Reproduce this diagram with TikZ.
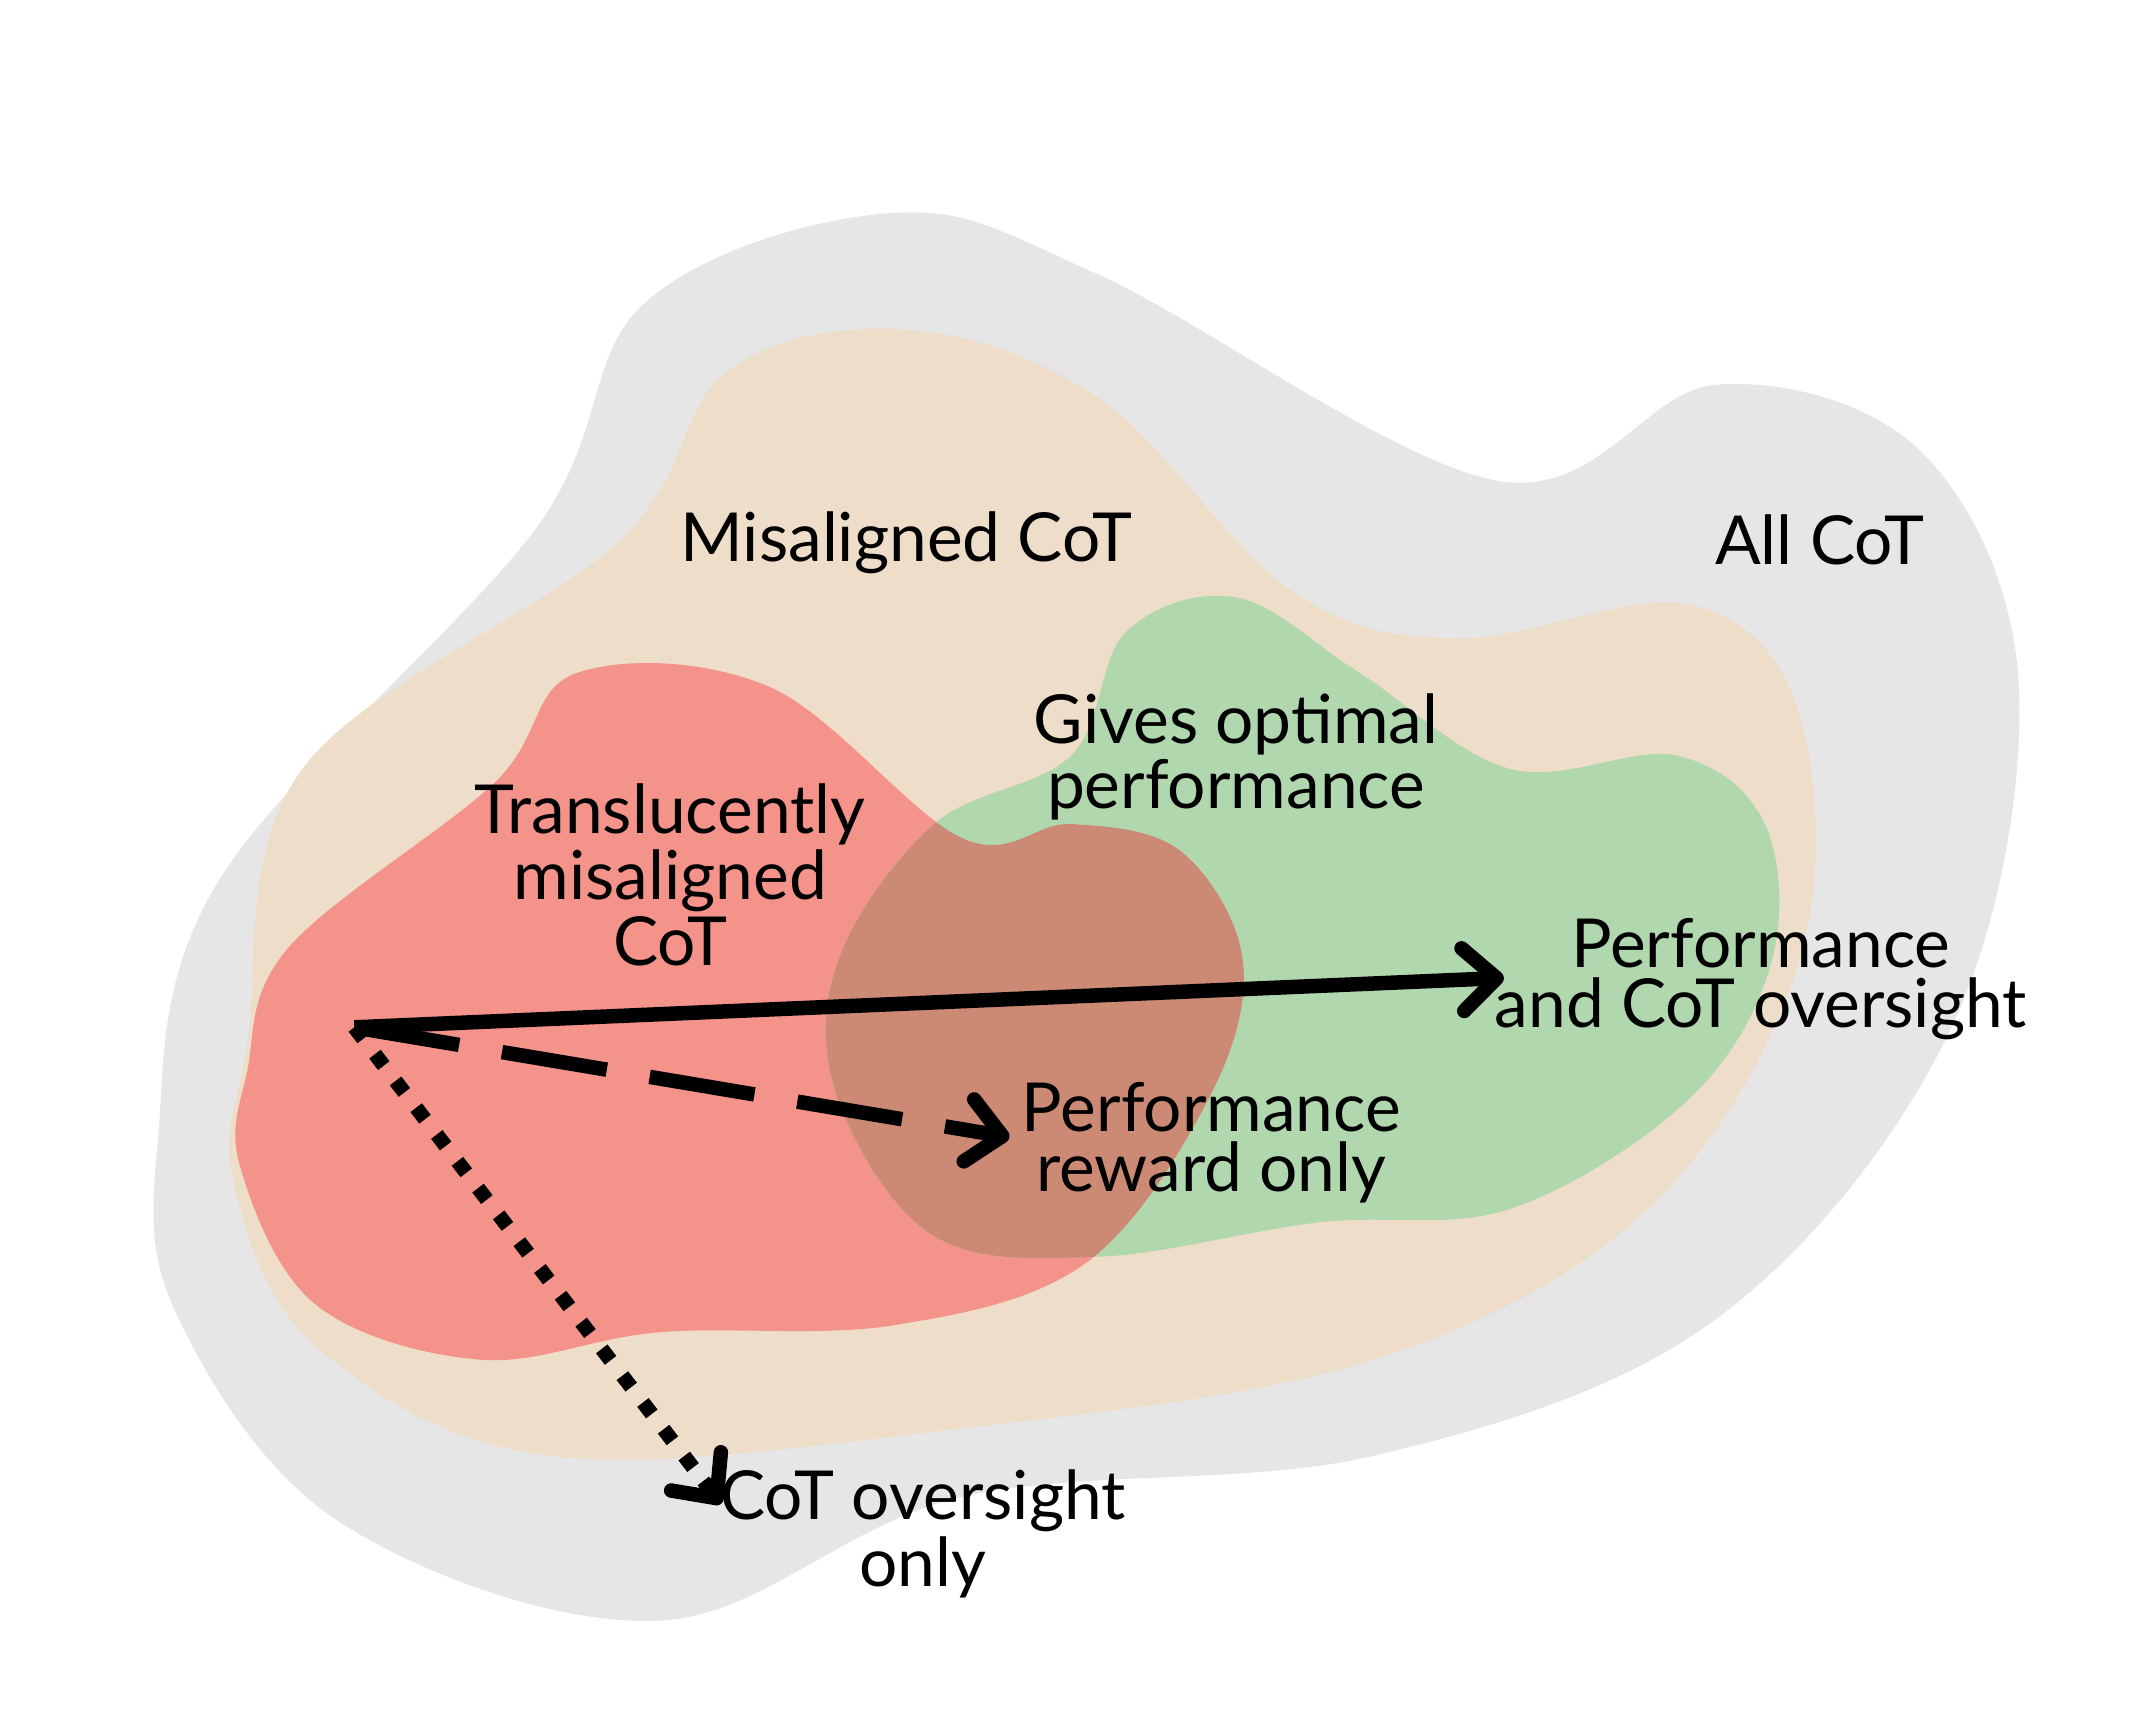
\documentclass[tikz,border=0pt]{standalone}
\usepackage{fontspec}
\setmainfont{Lato}
\usetikzlibrary{arrows.meta,calc}
\definecolor{cgray}{HTML}{E6E6E6}
\definecolor{cbeige}{HTML}{EEDDC8}
\definecolor{cred}{HTML}{F4938A}
\definecolor{cgreen}{HTML}{B1D7AE}
\definecolor{cover}{HTML}{CC8A75}
\tikzset{lbl/.style={font=\fontsize{14}{12.3}\selectfont, align=center, inner sep=0pt},
 arr/.style={line width=3pt, -{Straight Barb[round,length=7pt,width=13pt,line width=3pt]}}}
\begin{document}
\begin{tikzpicture}[x=0.01cm,y=-0.01cm]
\useasboundingbox (0,0) rectangle (1564,1250);
\fill[cgray] plot[smooth cycle,tension=0.6] coordinates {(115,830)(160,640)(390,385)(470,220)(650,155)(800,200)(1090,350)(1250,280)(1400,330)(1470,500)(1420,750)(1250,960)(1000,1060)(700,1090)(480,1180)(250,1110)(130,960)};
\fill[cbeige] plot[smooth cycle,tension=0.6] coordinates {(180,760)(220,560)(450,395)(530,270)(660,240)(800,290)(940,430)(1060,465)(1230,440)(1310,520)(1310,700)(1200,880)(1000,990)(700,1040)(400,1060)(230,980)(170,860)};
\def\redpath{plot[smooth cycle,tension=0.6] coordinates {(180,780)(210,690)(360,570)(420,490)(560,500)(700,610)(780,600)(860,620)(905,700)(880,800)(790,920)(650,965)(480,970)(350,990)(230,950)(175,850)}}
\def\greenpath{plot[smooth cycle,tension=0.6] coordinates {(610,700)(680,600)(780,550)(820,460)(900,435)(990,490)(1100,560)(1220,550)(1285,600)(1290,700)(1230,800)(1100,880)(960,890)(800,915)(680,900)(610,800)}}
\fill[cred] \redpath;
\fill[cgreen] \greenpath;
\begin{scope}
\clip \greenpath;
\fill[cover] \redpath;
\end{scope}
\node[lbl] (all) at (1325,393) {All CoT};
\node[lbl] (mis) at (660,395) {Misaligned CoT};
\node[lbl] (trans) at (488,637) {Translucently\\misaligned\\CoT};
\node[lbl] (opt) at (900,551) {Gives optimal\\performance};
\node[lbl] (both) at (1282,713) {Performance\\and CoT oversight};
\node[lbl] (perf) at (882,832) {Performance\\reward only};
\node[lbl] (cot) at (672,1117) {CoT oversight\\only};
\coordinate (s) at (258,748);
\coordinate (e1) at (1095,712);
\coordinate (e2) at (735,828);
\coordinate (e3) at (525,1095);
\draw[arr] (s) -- (e1);
\draw[arr, dash pattern=on 22pt off 9pt] (s) -- (e2);
\draw[line width=3pt, dash pattern=on 3pt off 4pt] (s) -- ($(e3)!6pt!(s)$);
\draw[arr] ($(e3)!6pt!(s)$) -- (e3);
\end{tikzpicture}
\end{document}
